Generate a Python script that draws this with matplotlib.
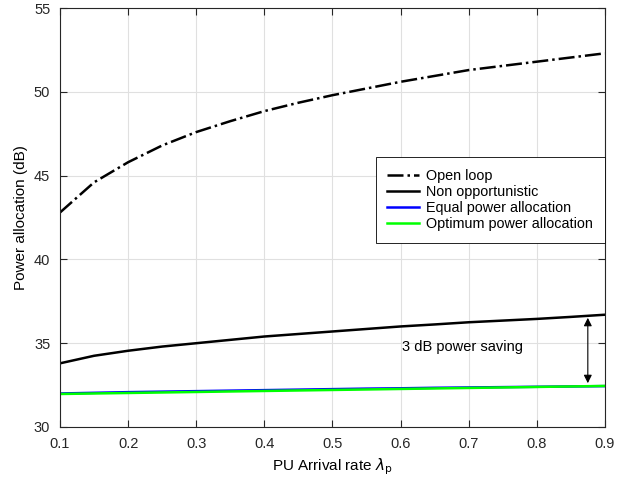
import matplotlib
matplotlib.use("Agg")
import matplotlib.pyplot as plt

plt.rcParams['font.family'] = ['Liberation Sans', 'DejaVu Sans']

# data
x = [0.1, 0.15, 0.2, 0.25, 0.3, 0.35, 0.4, 0.45, 0.5, 0.55, 0.6, 0.65, 0.7, 0.75, 0.8, 0.85, 0.9]
open_loop = [42.8, 44.6, 45.8, 46.8, 47.6, 48.25, 48.85, 49.35, 49.8, 50.2, 50.6, 50.95, 51.3, 51.55, 51.8, 52.05, 52.3]
non_opp = [33.8, 34.25, 34.55, 34.8, 35.0, 35.2, 35.4, 35.55, 35.7, 35.85, 36.0, 36.12, 36.25, 36.35, 36.45, 36.57, 36.7]
equal_pa = [32.0, 32.04, 32.08, 32.11, 32.14, 32.17, 32.2, 32.23, 32.26, 32.29, 32.31, 32.34, 32.36, 32.38, 32.4, 32.42, 32.44]
opt_pa = [31.97, 32.0, 32.03, 32.06, 32.09, 32.12, 32.15, 32.18, 32.21, 32.24, 32.27, 32.3, 32.33, 32.36, 32.39, 32.42, 32.45]

fig = plt.figure(figsize=(6.41, 4.86), dpi=100)
ax = fig.add_axes([0.0936, 0.1214, 0.850, 0.862])

ax.plot(x, open_loop, color="black", linestyle="-.", linewidth=1.8, label="Open loop")
ax.plot(x, non_opp, color="black", linewidth=1.8, label="Non opportunistic")
ax.plot(x, equal_pa, color="blue", linewidth=1.8, label="Equal power allocation")
ax.plot(x, opt_pa, color="#00ff00", linewidth=1.8, label="Optimum power allocation")

# 3 dB annotation
ax.annotate("", xy=(0.875, 32.45), xytext=(0.875, 36.68),
            arrowprops=dict(arrowstyle="<|-|>", color="black", lw=0.8, mutation_scale=12))
ax.text(0.78, 34.8, "3 dB power saving", ha="right", va="center", fontsize=10.5)

ax.set_xlim(0.1, 0.9)
ax.set_ylim(30, 55)
ax.set_xticks([0.1, 0.2, 0.3, 0.4, 0.5, 0.6, 0.7, 0.8, 0.9])
ax.set_yticks([30, 35, 40, 45, 50, 55])
ax.grid(True, color="#e0e0e0", linewidth=0.8)
ax.set_axisbelow(True)
ax.tick_params(direction="in", top=True, right=True, labelsize=10.5, colors="#262626",
               length=5, pad=7)
for s in ax.spines.values():
    s.set_color("#262626")
ax.set_xlabel(r"PU Arrival rate $\lambda_\mathrm{p}$", fontsize=11)
ax.set_ylabel("Power allocation (dB)", fontsize=11)

leg = ax.legend(loc="upper right", bbox_to_anchor=(1.0, 0.644), borderaxespad=0,
                fontsize=10.4, frameon=True, fancybox=False, edgecolor="black",
                framealpha=1, handlelength=2.2, handletextpad=0.5,
                borderpad=0.8, labelspacing=0.15)
leg.get_frame().set_linewidth(0.6)

fig.savefig("out.png", dpi=100)
